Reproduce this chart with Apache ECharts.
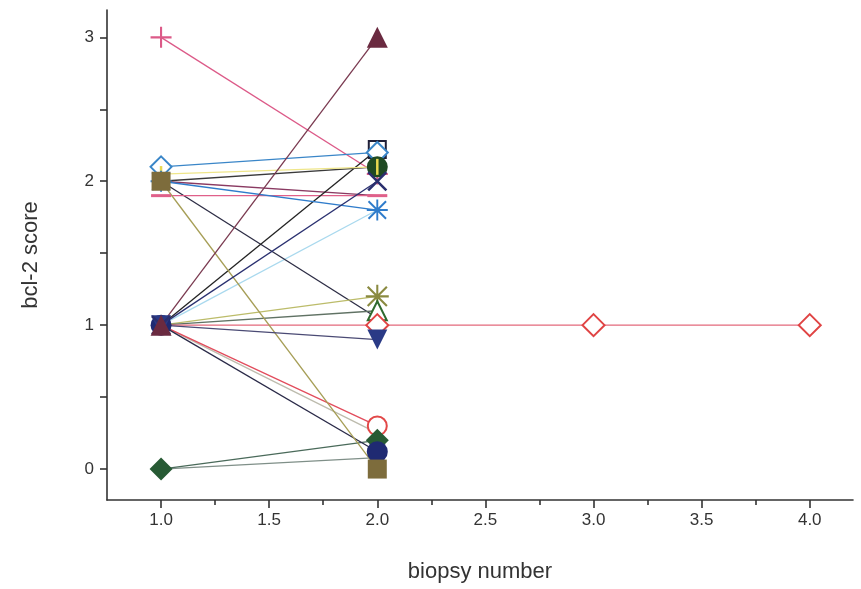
<!DOCTYPE html>
<html>
<head>
<meta charset="utf-8">
<script src="https://cdn.jsdelivr.net/npm/echarts@6/dist/echarts.min.js"></script>
<style>
html,body{margin:0;padding:0;background:#fff;}
#chart{width:861px;height:589px;}
</style>
</head>
<body>
<div id="chart"></div>
<script>
// ---- data ----
const xTickLabels = [1.0, 1.5, 2.0, 2.5, 3.0, 3.5, 4.0];
const xMinorTicks = [1.25, 1.75, 2.25, 2.75, 3.25, 3.75];
const yTickLabels = [0, 1, 2, 3];
const yTicks = [0, 0.5, 1, 1.5, 2, 2.5, 3];

const sPlus        = [[1, 3], [2, 2.05]];
const sTriUp       = [[1, 1], [2, 3]];
const sDiamondBlue = [[1, 2.1], [2, 2.2]];
const sSquareOpen  = [[1, 1], [2, 2.22]];
const sCircleGreen = [[1, 2], [2, 2.1]];
const sBarYellow   = [[1, 2.05], [2, 2.1]];
const sCross       = [[1, 1], [2, 2.0]];
const sDash        = [[1, 1.9], [2, 1.9]];
const sMaroonLine  = [[1, 2], [2, 1.9]];
const sStarBlue    = [[1, 2], [2, 1.8]];
const sCyanLine    = [[1, 1], [2, 1.8]];
const sSquareOlive = [[1, 2], [2, 0]];
const sDarkLine    = [[1, 2], [2, 1.05]];
const sStarOlive   = [[1, 1], [2, 1.2]];
const sTriGreen    = [[1, 1], [2, 1.1]];
const sDiamondRed  = [[1, 1], [2, 1], [3, 1], [4, 1]];
const sTriDown     = [[1, 1], [2, 0.9]];
const sCircleRed   = [[1, 1], [2, 0.3]];
const sGrayLine    = [[1, 1], [2, 0.25]];
const sCircleNavy  = [[1, 1], [2, 0.12]];
const sDiamondDkGr = [[1, 0], [2, 0.2]];
const sGreyLine2   = [[1, 0], [2, 0.08]];

// ---- symbols ----
const P_PLUS = 'path://M9,0H11V20H9ZM0,9H20V11H0Z';
const P_X = 'path://M0,1.8L1.8,0L20,18.2L18.2,20ZM18.2,0L20,1.8L1.8,20L0,18.2Z';
const P_STAR = 'path://M9.1,0H10.9V20H9.1ZM0,9.1H20V10.9H0ZM1,2.3L2.3,1L19,17.7L17.7,19ZM17.7,1L19,2.3L2.3,19L1,17.7Z';
const P_TRIDOWN = 'path://M0,0H20L10,18Z';
const P_DASH = 'path://M0,0H20V3H0Z';
const P_BAR = 'path://M0,0H2V20H0Z';

function pts(arr, firstShow) {
  return arr.map((p, i) => (i === 0 && !firstShow) ? {value: p, symbol: 'none'} : {value: p});
}

function mk(data, opt) {
  return {
    type: 'line',
    data: pts(data, opt.firstShow !== false),
    symbol: opt.symbol || 'none',
    symbolSize: opt.size || 16,
    showSymbol: true,
    animation: false,
    z: opt.z || 2,
    lineStyle: {color: opt.line, width: opt.lw || 1.3},
    itemStyle: {color: opt.color || opt.line, borderWidth: opt.bw != null ? opt.bw : 0, borderColor: opt.color || opt.line},
    emphasis: {disabled: true}
  };
}

const series = [
  mk(sGreyLine2,   {line: '#7f8f88'}),
  mk(sGrayLine,    {line: '#bdbcae'}),
  mk(sCyanLine,    {line: '#a9d9ee'}),
  mk(sDarkLine,    {line: '#2c2c44'}),
  mk(sMaroonLine,  {line: '#8a3a62'}),
  mk(sPlus,        {line: '#dc5a88', symbol: P_PLUS, size: 21, firstShowOnly: true}),
  mk(sDash,        {line: '#e0608a', symbol: P_DASH, size: [20, 3]}),
  mk(sSquareOpen,  {line: '#222222', color: '#202038', symbol: 'emptyRect', size: 17, bw: 2.5, firstShow: false}),
  mk(sDiamondBlue, {line: '#3a86c8', symbol: 'emptyDiamond', size: 21, bw: 2.8}),
  mk(sCircleGreen, {line: '#3a3a3a', color: '#1f4a22', symbol: 'circle', size: 21, firstShow: false}),
  mk(sBarYellow,   {line: '#efe68a', color: '#e8d850', symbol: P_BAR, size: [2.5, 16]}),
  mk(sStarBlue,    {line: '#2f7ccb', symbol: P_STAR, size: 21}),
  mk(sStarOlive,   {line: '#bcbc6a', color: '#8a8a40', symbol: P_STAR, size: 23, firstShow: false}),
  mk(sTriGreen,    {line: '#607264', color: '#2f6a2f', symbol: 'emptyTriangle', size: 19, bw: 2.5, firstShow: false}),
  mk(sDiamondRed,  {line: '#e46a7c', color: '#e04444', symbol: 'emptyDiamond', size: 22, bw: 2.5, firstShow: false}),
  mk(sCircleRed,   {line: '#e24c5c', color: '#e24848', symbol: 'emptyCircle', size: 19, bw: 2.5, firstShow: false}),
  mk(sDiamondDkGr, {line: '#4a6a5a', color: '#275a34', symbol: 'diamond', size: 23}),
  mk(sCircleNavy,  {line: '#2a2a48', color: '#1f2a72', symbol: 'circle', size: 21}),
  mk(sSquareOlive, {line: '#a69e56', color: '#7d6c3c', symbol: 'rect', size: 19}),
  mk(sTriDown,     {line: '#4a4a74', color: '#2a3a86', symbol: P_TRIDOWN, size: 20}),
  mk(sCross,       {line: '#2a3070', color: '#2a2f6e', symbol: P_X, size: 20}),
  mk(sTriUp,       {line: '#7a3a50', color: '#6a2a40', symbol: 'triangle', size: 21})
];

const axisText = {color: '#333', fontFamily: 'Liberation Sans, Arial, sans-serif', fontSize: 17};

const option = {
  backgroundColor: '#fff',
  animation: false,
  grid: {left: 107, right: 8, top: 10, bottom: 89, containLabel: false},
  xAxis: [{
    type: 'value', min: 0.75, max: 4.2, position: 'bottom',
    name: 'biopsy number', nameLocation: 'middle', nameGap: 61,
    nameTextStyle: {color: '#333', fontFamily: 'Liberation Sans, Arial, sans-serif', fontSize: 22},
    axisLine: {show: true, onZero: false, lineStyle: {color: '#333', width: 1.6}},
    axisTick: {show: true, inside: false, length: 8, customValues: xTickLabels, lineStyle: {color: '#333', width: 1.6}},
    axisLabel: Object.assign({customValues: xTickLabels, margin: 12, formatter: v => v.toFixed(1)}, axisText),
    splitLine: {show: false}
  }, {
    type: 'value', min: 0.75, max: 4.2, position: 'bottom', gridIndex: 0,
    axisLine: {show: false, onZero: false},
    axisTick: {show: true, inside: false, length: 5, customValues: xMinorTicks, lineStyle: {color: '#333', width: 1.6}},
    axisLabel: {show: false},
    splitLine: {show: false}
  }],
  yAxis: [{
    type: 'value', min: -0.215, max: 3.19, position: 'left',
    name: 'bcl-2 score', nameLocation: 'middle', nameGap: 65, nameRotate: 90,
    nameTextStyle: {color: '#333', fontFamily: 'Liberation Sans, Arial, sans-serif', fontSize: 22},
    axisLine: {show: true, onZero: false, lineStyle: {color: '#333', width: 1.6}},
    axisTick: {show: true, inside: false, length: 7, customValues: yTicks, lineStyle: {color: '#333', width: 1.6}},
    axisLabel: Object.assign({customValues: yTickLabels, margin: 13}, axisText),
    splitLine: {show: false}
  }],
  series: series
};

const chart = echarts.init(document.getElementById('chart'), null, {renderer: 'canvas'});
chart.setOption(option);
</script>
</body>
</html>
